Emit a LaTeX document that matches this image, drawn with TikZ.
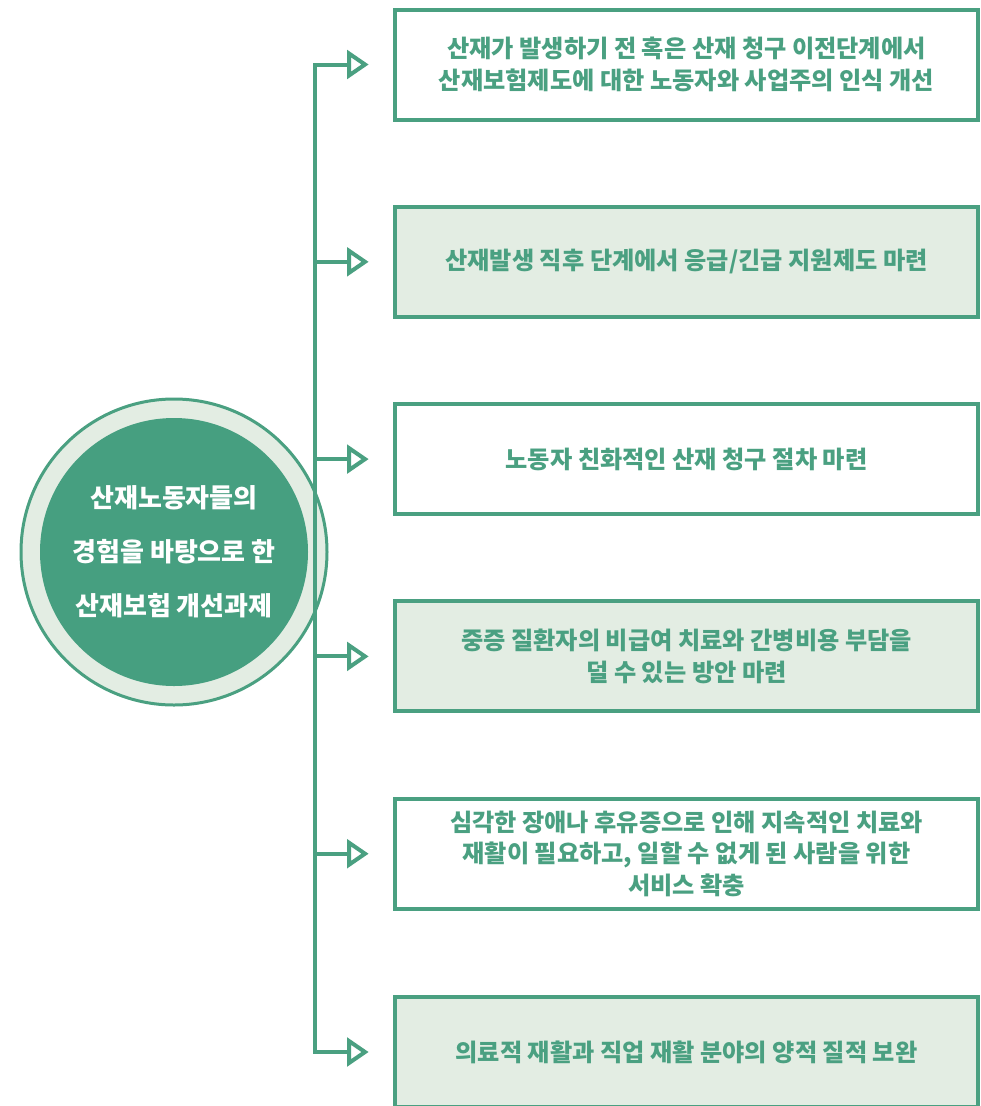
\documentclass[tikz,border=0pt]{standalone}
\usepackage{fontspec}
\newfontfamily\kr{Noto Sans CJK KR}[BoldFont={Noto Sans CJK KR Black}]
\definecolor{gline}{HTML}{4AA081}
\definecolor{gfill}{HTML}{E3EDE3}
\definecolor{gdark}{HTML}{469F80}
\tikzset{
  box/.style={draw=gline, line width=4pt, minimum width=583pt, minimum height=110pt,
    align=center, inner sep=0pt, text=gline, font=\kr\bfseries\fontsize{24.2}{31.5}\selectfont},
  wbox/.style={box, fill=white},
  lbox/.style={box, fill=gfill},
  branch/.style={draw=gline, line width=4pt, line cap=rect},
  tri/.style={draw=gline, line width=4pt, fill=white, line join=miter}
}
\begin{document}
\begin{tikzpicture}[x=1pt,y=-1pt]
\useasboundingbox (0,0) rectangle (981,1106);
\fill[white] (0,0) rectangle (981,1106);
% circle
\node[circle, draw=gline, line width=3pt, fill=gfill, minimum size=306pt, inner sep=0pt] (outer) at (174,552) {};
\node[circle, fill=gdark, minimum size=268pt, inner sep=0pt, text=white, align=center,
  font=\kr\bfseries\fontsize{26}{54}\selectfont] (center) at (174,552)
  {산재노동자들의\\경험을 바탕으로 한\\산재보험 개선과제};
% boxes
\node[wbox] (b1) at (686.5,64.5) {산재가 발생하기 전 혹은 산재 청구 이전단계에서\\산재보험제도에 대한 노동자와 사업주의 인식 개선};
\node[lbox] (b2) at (686.5,261.8) {산재발생 직후 단계에서 응급/긴급 지원제도 마련};
\node[wbox] (b3) at (686.5,459.1) {노동자 친화적인 산재 청구 절차 마련};
\node[lbox] (b4) at (686.5,656.4) {중증 질환자의 비급여 치료와 간병비용 부담을\\덜 수 있는 방안 마련};
\node[wbox] (b5) at (686.5,853.7) {심각한 장애나 후유증으로 인해 지속적인 치료와\\재활이 필요하고, 일할 수 없게 된 사람을 위한\\서비스 확충};
\node[lbox] (b6) at (686.5,1052) {의료적 재활과 직업 재활 분야의 양적 질적 보완};
% spine coordinates
\foreach \i/\y in {1/64.5,2/261.8,3/459.1,4/656.4,5/853.7,6/1052}{
  \coordinate (s\i) at (315,\y);
  \coordinate (t\i) at (349,\y);
}
\draw[branch] (s1) -- (s6);
\foreach \i in {1,...,6}{
  \draw[branch] (s\i) -- (t\i);
  \draw[tri] ([yshift=-11pt]t\i) -- ([xshift=16pt]t\i) -- ([yshift=11pt]t\i) -- cycle;
}
\end{tikzpicture}
\end{document}
